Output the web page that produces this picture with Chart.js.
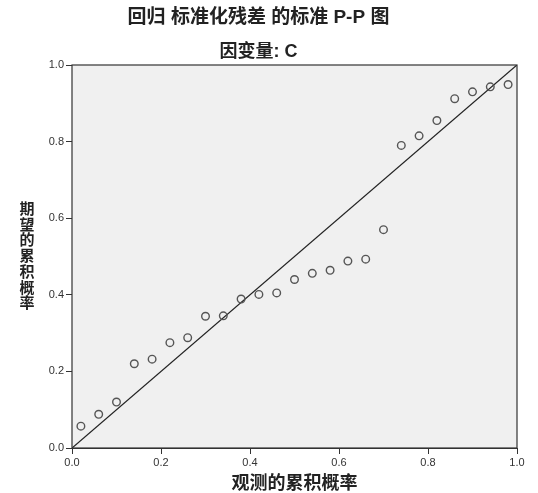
<!DOCTYPE html>
<html>
<head>
    <title>P-P Plot</title>
    <script src="https://cdn.jsdelivr.net/npm/chart.js"></script>
    <style>
        body { margin: 0; background: #fff; }
    </style>
</head>
<body>
<canvas id="chart" width="538" height="493"></canvas>
<script>
    // observed cumulative probability (x) and expected cumulative probability (y)
    var observed = [0.02, 0.06, 0.10, 0.14, 0.18, 0.22, 0.26, 0.30, 0.34, 0.38, 0.42, 0.46, 0.50,
                    0.54, 0.58, 0.62, 0.66, 0.70, 0.74, 0.78, 0.82, 0.86, 0.90, 0.94, 0.98];
    var expected = [0.057, 0.088, 0.120, 0.220, 0.232, 0.275, 0.288, 0.344, 0.345, 0.389, 0.401, 0.405, 0.440,
                    0.456, 0.464, 0.488, 0.493, 0.570, 0.790, 0.815, 0.855, 0.912, 0.930, 0.943, 0.949];
    var refLine = [0, 1];
    var tickValues = [0, 0.2, 0.4, 0.6, 0.8, 1.0];

    var mainTitle = '回归 标准化残差 的标准 P-P 图';
    var subTitle = '因变量: C';
    var xTitle = '观测的累积概率';
    var yTitle = '期望的累积概率';

    var cjkFont = '"Liberation Sans", "Noto Sans CJK SC", sans-serif';

    var points = observed.map(function (x, i) { return { x: x, y: expected[i] }; });
    var diag = refLine.map(function (v) { return { x: v, y: v }; });

    // grey plot background with a frame
    var plotFrame = {
        id: 'plotFrame',
        beforeDatasetsDraw: function (chart) {
            var a = chart.chartArea, ctx = chart.ctx;
            ctx.save();
            ctx.fillStyle = '#f0f0f0';
            ctx.fillRect(a.left, a.top, a.right - a.left, a.bottom - a.top);
            ctx.restore();
        },
        afterDatasetsDraw: function (chart) {
            var a = chart.chartArea, ctx = chart.ctx;
            ctx.save();
            ctx.strokeStyle = '#333';
            ctx.lineWidth = 1.2;
            ctx.strokeRect(a.left, a.top, a.right - a.left, a.bottom - a.top);
            ctx.restore();
        }
    };

    // upright stacked y axis title
    var stackedTitle = {
        id: 'stackedTitle',
        afterDraw: function (chart) {
            var ctx = chart.ctx;
            var chars = yTitle.split('');
            var step = 15.7;
            var y0 = 257 - step * (chars.length - 1) / 2;
            ctx.save();
            ctx.font = 'bold 15px ' + cjkFont;
            ctx.fillStyle = '#222';
            ctx.textAlign = 'center';
            ctx.textBaseline = 'middle';
            chars.forEach(function (c, i) { ctx.fillText(c, 27, y0 + i * step); });
            ctx.restore();
        }
    };

    var axisCommon = {
        type: 'linear',
        min: 0,
        max: 1,
        grid: { display: true, drawOnChartArea: false, drawTicks: true, tickLength: 6, color: '#333' },
        border: { display: true, color: '#333', width: 1 }
    };

    var ctx = document.getElementById('chart').getContext('2d');
    var chart = new Chart(ctx, {
        type: 'scatter',
        data: {
            datasets: [{
                label: 'observed',
                data: points,
                pointStyle: 'circle',
                pointRadius: 3.8,
                pointBorderWidth: 1.4,
                borderColor: '#555',
                backgroundColor: 'rgba(0,0,0,0)'
            },
            {
                type: 'line',
                label: 'reference',
                data: diag,
                borderColor: '#222',
                borderWidth: 1.3,
                pointRadius: 0,
                fill: false
            }]
        },
        options: {
            responsive: false,
            animation: false,
            layout: { padding: { left: 0, right: 21, top: 0, bottom: 0 } },
            scales: {
                x: Object.assign({}, axisCommon, {
                    position: 'bottom',
                    afterBuildTicks: function (s) { s.ticks = tickValues.map(function (v) { return { value: v }; }); },
                    afterFit: function (s) { s.height = 45; },
                    ticks: {
                        padding: 2,
                        color: '#333',
                        font: { family: '"Liberation Sans", Arial, sans-serif', size: 11 },
                        callback: function (v) { return v.toFixed(1); }
                    },
                    title: {
                        display: true,
                        text: xTitle,
                        color: '#222',
                        padding: 0,
                        font: { family: cjkFont, size: 18, weight: 'bold', lineHeight: 1.0 }
                    }
                }),
                y: Object.assign({}, axisCommon, {
                    position: 'left',
                    afterBuildTicks: function (s) { s.ticks = tickValues.map(function (v) { return { value: v }; }); },
                    afterFit: function (s) { s.width = 72; },
                    ticks: {
                        padding: 2,
                        color: '#333',
                        font: { family: '"Liberation Sans", Arial, sans-serif', size: 11 },
                        callback: function (v) { return v.toFixed(1); }
                    }
                })
            },
            plugins: {
                legend: { display: false },
                tooltip: { enabled: false },
                title: {
                    display: true,
                    text: mainTitle,
                    color: '#222',
                    padding: { top: 6.6, bottom: 11.8 },
                    font: { family: cjkFont, size: 19, weight: 'bold' }
                },
                subtitle: {
                    display: true,
                    text: subTitle,
                    color: '#222',
                    padding: { top: 0, bottom: 2.2 },
                    font: { family: cjkFont, size: 18, weight: 'bold' }
                }
            }
        },
        plugins: [plotFrame, stackedTitle]
    });
</script>
</body>
</html>
